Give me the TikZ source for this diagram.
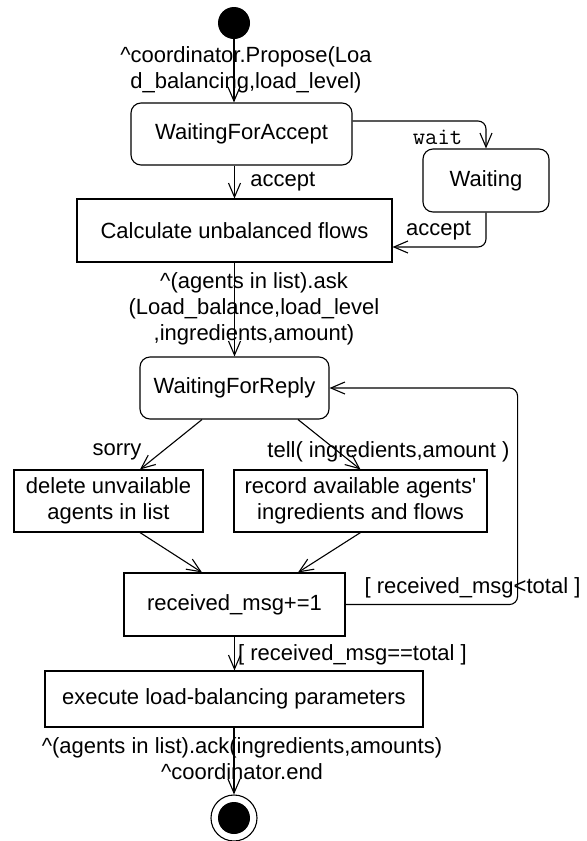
\documentclass[tikz,border=0pt]{standalone}
\usepackage{fontspec}
\setmainfont{Liberation Sans}
\usetikzlibrary{arrows.meta,positioning}

\begin{document}
\begin{tikzpicture}[x=0.5pt,y=-0.5pt,
            every node/.style={font=\fontsize{11}{13}\selectfont},
            state/.style={rectangle,rounded corners=5pt,draw,line width=0.55pt,inner sep=0pt},
            action/.style={rectangle,draw,line width=0.55pt,inner sep=0pt,align=center},
            trans/.style={line width=0.55pt,-{Straight Barb[length=7pt,width=6pt]}},
            guard/.style={inner sep=0pt,align=center}
        ]
            \useasboundingbox (0,0) rectangle (586,841);
            % states and actions
            \node[circle,fill,inner sep=0pt,minimum size=16pt] (start) at (234,23) {};
            \node[state,minimum width=110.5pt,minimum height=31pt] (wfa) at (241.5,134) {WaitingForAccept};
            \node[state,minimum width=63pt,minimum height=31.5pt] (waiting) at (486,180.5) {Waiting};
            \node[action,minimum width=157.5pt,minimum height=31.5pt] (calc) at (234.5,230.5) {Calculate unbalanced flows};
            \node[state,minimum width=94.5pt,minimum height=31pt] (wfr) at (234.5,388) {WaitingForReply};
            \node[action,minimum width=94.5pt,minimum height=31pt] (del) at (108.5,501) {delete unvailable\\agents in list};
            \node[action,minimum width=126.5pt,minimum height=31pt] (rec) at (360.5,501) {record available agents\textquotesingle\\ingredients and flows};
            \node[action,minimum width=110.5pt,minimum height=31.5pt] (recv) at (234.5,604.5) {received\_msg+=1};
            \node[action,minimum width=189pt,minimum height=28pt] (exec) at (234,699) {execute load-balancing parameters};
            \node[circle,draw,line width=0.55pt,inner sep=0pt,minimum size=23pt] (end) at (234,818) {};
            \fill (end) circle (8pt);
            % transitions
            \path[trans]
                (start) edge (start |- wfa.north)
                (calc.north |- wfa.south) edge (calc.north)
                (calc) edge (wfr)
                ([xshift=-16.25pt]wfr.south) edge ([xshift=15.75pt]del.north)
                ([xshift=31.75pt]wfr.south) edge (rec.north)
                ([xshift=15.75pt]del.south) edge ([xshift=-16.25pt]recv.north)
                (rec.south) edge ([xshift=31.75pt]recv.north)
                (recv.south) edge (recv.south |- exec.north)
                (exec) edge (end);
            \draw[trans,rounded corners=4pt] ([yshift=6.5pt]wfa.east) -| (waiting.north);
            \draw[trans,rounded corners=4pt] (waiting.south) |- ([yshift=-8.25pt]calc.east);
            \draw[trans,rounded corners=4pt] (recv.east) -- ++(86pt,0) |- (wfr.east);
            % labels
            \node[guard] (lprop) at (246,70) {\textasciicircum coordinator.Propose(Loa\\d\_balancing,load\_level)};
            \node[guard,anchor=west] (lacc) at (250,182) {accept};
            \node[guard,font=\ttfamily\fontsize{12}{14}\selectfont] (lwait) at (437.5,137) {wait};
            \node[guard] (lacc2) at (438.5,231) {accept};
            \node[guard] (lask) at (254,309) {\textasciicircum(agents in list).ask\\(Load\_balance,load\_level\\,ingredients,amount)};
            \node[guard] (lsorry) at (117,452) {sorry};
            \node[guard] (ltell) at (388.5,452) {tell( ingredients,amount )};
            \node[guard] (lless) at (472.5,588) {[ received\_msg<total ]};
            \node[guard] (leq) at (352.5,655) {[ received\_msg==total ]};
            \node[guard] (lack) at (242,759) {\textasciicircum(agents in list).ack(ingredients,amounts)\\\textasciicircum coordinator.end};
        \end{tikzpicture}
\end{document}
